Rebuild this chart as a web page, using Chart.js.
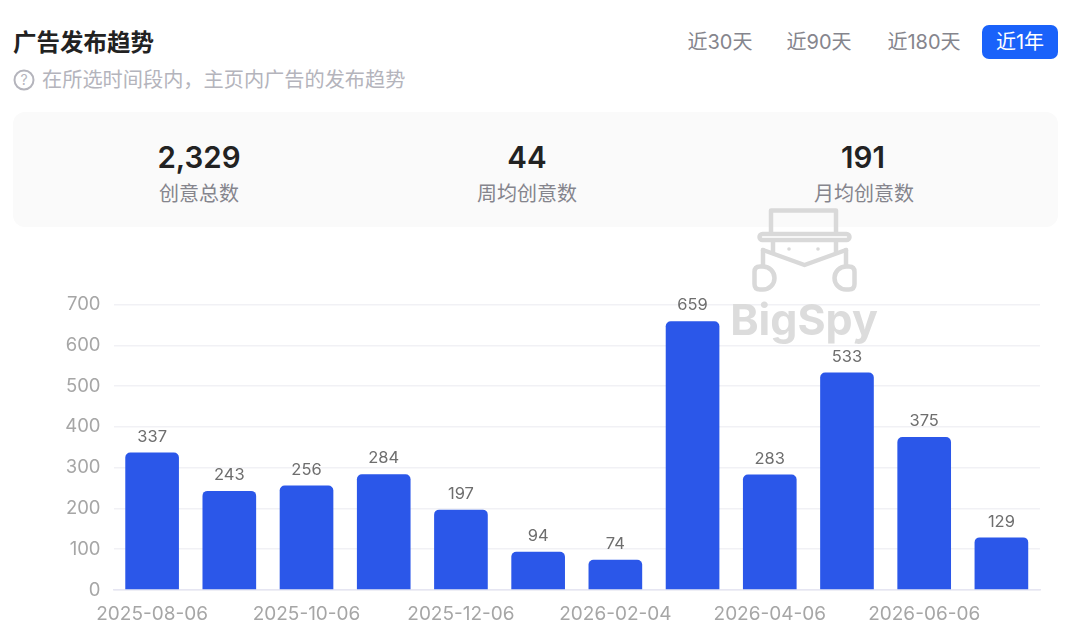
<!DOCTYPE html>
<html>
<head>
<meta charset="utf-8">
<script src="https://cdn.jsdelivr.net/npm/chart.js@4/dist/chart.umd.min.js"></script>
<style>
html, body { margin: 0; padding: 0; background: #fff; overflow: hidden; }
body { width: 1080px; height: 639px; position: relative; font-family: Inter, "Noto Sans CJK SC", sans-serif; }
.abs { position: absolute; white-space: nowrap; }
#title { left: 13px; top: 26px; font-size: 23.5px; line-height: 30px; font-weight: 700; color: #222; font-family: "Noto Sans CJK SC", sans-serif; }
#sub { left: 42px; top: 66px; font-size: 20.2px; line-height: 28px; color: #b4b4bc; }
#help { left: 13px; top: 69px; }
.tab { top: 25px; height: 34px; line-height: 34px; font-size: 20px; color: #85858d; text-align: center; }
#active { left: 982px; width: 76px; background: #1a62fa; color: #fff; border-radius: 7px; }
#panel { left: 13px; top: 112px; width: 1045px; height: 115px; background: #fafafa; border-radius: 12px; }
.num { top: 138px; width: 200px; text-align: center; font-size: 29.5px; line-height: 38px; font-weight: 600; color: #222; }
.lab { top: 180px; width: 200px; text-align: center; font-size: 20px; line-height: 28px; color: #85858d; }
#chart { position: absolute; left: 0; top: 0; }
#mark { left: 725px; top: 200px; pointer-events: none; }
</style>
</head>
<body>
<div class="abs" id="title">广告发布趋势</div>
<svg class="abs" id="help" width="22" height="22" viewBox="0 0 22 22">
  <circle cx="11" cy="11" r="9.5" fill="none" stroke="#b4b4bc" stroke-width="2"/>
  <text x="11" y="16" text-anchor="middle" font-size="14" font-family="Inter" fill="#b4b4bc">?</text>
</svg>
<div class="abs" id="sub">在所选时间段内，主页内广告的发布趋势</div>
<div class="abs tab" style="left:680px;width:80px">近30天</div>
<div class="abs tab" style="left:779px;width:80px">近90天</div>
<div class="abs tab" style="left:878px;width:92px">近180天</div>
<div class="abs tab" id="active">近1年</div>
<div class="abs" id="panel"></div>
<div class="abs num" style="left:99px">2,329</div>
<div class="abs lab" style="left:99px">创意总数</div>
<div class="abs num" style="left:427px">44</div>
<div class="abs lab" style="left:427px">周均创意数</div>
<div class="abs num" style="left:763px">191</div>
<div class="abs lab" style="left:764px">月均创意数</div>

<canvas id="chart" width="1080" height="639"></canvas>

<svg class="abs" id="mark" width="160" height="145" viewBox="0 0 160 145">
  <g fill="none" stroke="#d9d9d9" stroke-width="4.5" stroke-linejoin="round" stroke-linecap="round">
    <path d="M46 33 V10.5 H111 V33"/>
    <rect x="34.5" y="34" width="90" height="6" rx="3"/>
    <path d="M38 50 L79.5 65 L121 50"/>
    <path d="M38 50 V66 M121 50 V66"/>
    <path d="M48 41 V53 M111 41 V53"/>
    <path d="M29.5 72 Q29.5 66.5 35 66.5 H38 A11.5 11.5 0 0 1 38 89.5 H35 Q29.5 89.5 29.5 84 Z"/>
    <path d="M129.5 72 Q129.5 66.5 124 66.5 H121 A11.5 11.5 0 0 0 121 89.5 H124 Q129.5 89.5 129.5 84 Z"/>
  </g>
  <circle cx="64" cy="49" r="1.8" fill="#d9d9d9"/>
  <circle cx="93" cy="49" r="1.8" fill="#d9d9d9"/>
  <text x="79" y="135" text-anchor="middle" font-family="Inter" font-size="43" font-weight="700" fill="#dcdcdc">BigSpy</text>
</svg>

<script>
const categories = ["2025-08-06", "2025-09-06", "2025-10-06", "2025-11-06", "2025-12-06", "2026-01-06",
  "2026-02-04", "2026-03-06", "2026-04-06", "2026-05-06", "2026-06-06", "2026-07-06"];
const values = [337, 243, 256, 284, 197, 94, 74, 659, 283, 533, 375, 129];
const yTicks = [0, 100, 200, 300, 400, 500, 600, 700];

// value above each bar
const barLabels = {
  id: "barLabels",
  afterDatasetsDraw(chart) {
    const ctx = chart.ctx;
    const bars = chart.getDatasetMeta(0).data;
    ctx.save();
    ctx.font = "16.5px Inter";
    ctx.fillStyle = "#6e6e6e";
    ctx.textAlign = "center";
    ctx.textBaseline = "bottom";
    bars.forEach((bar, i) => ctx.fillText(values[i], bar.x, bar.y - 7.5));
    ctx.restore();
  }
};

new Chart("chart", {
  type: "bar",
  data: {
    labels: categories,
    datasets: [{
      data: values,
      backgroundColor: "#2b57e9",
      borderRadius: { topLeft: 5, topRight: 5 },
      borderSkipped: "bottom",
      barPercentage: 0.695,
      categoryPercentage: 1
    }]
  },
  options: {
    responsive: false,
    animation: false,
    layout: { padding: { top: 304.5, right: 40, left: 0.5, bottom: 0 } },
    plugins: { legend: { display: false }, tooltip: { enabled: false } },
    scales: {
      x: {
        afterFit(scale) { scale.height = 49; },
        grid: { display: false },
        border: { color: "#e6e6f2", width: 1.5 },
        ticks: {
          autoSkip: false,
          maxRotation: 0,
          padding: 5,
          color: "#a6a6a6",
          font: { family: "Inter", size: 19 },
          callback(v, i) { return i % 2 === 0 ? categories[i] : ""; }
        }
      },
      y: {
        min: 0,
        max: 700,
        afterFit(scale) { scale.width = 113; },
        afterBuildTicks(scale) { scale.ticks = yTicks.map(v => ({ value: v })); },
        border: { display: false },
        grid: { color: "#f1f1f5", lineWidth: 1.5, drawTicks: false },
        ticks: {
          padding: 13,
          color: "#a6a6a6",
          font: { family: "Inter", size: 18.5 }
        }
      }
    }
  },
  plugins: [barLabels]
});
</script>
</body>
</html>
